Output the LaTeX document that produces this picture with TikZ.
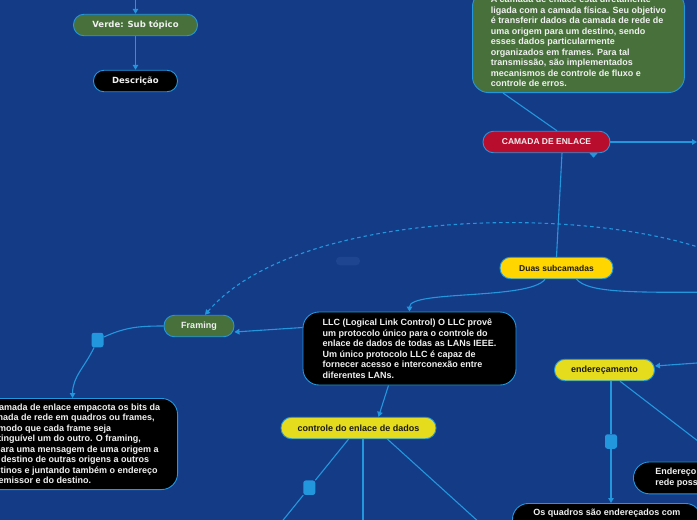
\documentclass[tikz,border=0pt]{standalone}
\usepackage{fontspec}
\setmainfont{Liberation Sans}
\newfontfamily\legendfont{DejaVu Sans}
\definecolor{mapnavy}{HTML}{143B86}
\definecolor{linkblue}{HTML}{2397DE}
\definecolor{leafgreen}{HTML}{47703A}
\definecolor{rootred}{HTML}{B80D2D}
\definecolor{sungold}{HTML}{FFD600}
\definecolor{lemon}{HTML}{E5DC1E}
\definecolor{ghostblue}{HTML}{1D4590}
\definecolor{paper}{HTML}{F0F0F0}
\definecolor{ink}{HTML}{1A1A1A}
\usetikzlibrary{arrows.meta,positioning,calc}

\begin{document}
\begin{tikzpicture}[x=1pt,y=1pt,
  link/.style={linkblue,line width=1.1pt},
  tip/.style={-{Triangle[length=5pt,width=5.5pt]}},
  pill/.style={draw=linkblue,line width=0.9pt,rounded corners=10.5pt,minimum height=21.5pt,
    inner sep=0pt,font=\bfseries\fontsize{9}{10.5}\selectfont},
  card/.style={draw=linkblue,line width=0.9pt,rounded corners=16pt,inner xsep=0pt,
    inner ysep=5.5pt,align=left,text=paper,font=\bfseries\fontsize{9}{10.5}\selectfont},
  knot/.style={fill=linkblue,rounded corners=2.5pt,minimum width=12pt,minimum height=14.5pt,inner sep=0pt}]
  \useasboundingbox (0,0) rectangle (697,-520);
  \fill[mapnavy] (0,0) rectangle (697,-520);

  % Legend
  \node[pill,fill=leafgreen,text=paper,minimum width=124pt,
    font=\legendfont\bfseries\fontsize{8.5}{10}\selectfont] (verde) at (135.5,-25) {Verde: Sub tópico};
  \node[pill,fill=black,text=paper,minimum width=84pt,
    font=\legendfont\bfseries\fontsize{8.5}{10}\selectfont] (descricao) at (135.5,-81) {Descrição};
  \coordinate (legendin) at (135.5,6);
  \draw[link,tip] (legendin) -- (verde);
  \draw[link,tip] (verde) -- (descricao);

  % Camada de enlace
  \node[card,fill=leafgreen,minimum width=212pt,anchor=south west] (resumo) at (472,-93)
    {A camada de enlace está diretamente\\ligada com a camada física. Seu objetivo\\é transferir dados da camada de rede de\\uma origem para um destino, sendo\\esses dados particularmente\\organizados em frames. Para tal\\transmissão, são implementados\\mecanismos de controle de fluxo e\\controle de erros.};
  \node[pill,fill=rootred,text=paper,minimum width=127pt,
    font=\bfseries\fontsize{8.5}{10}\selectfont] (camada) at (546.5,-142) {CAMADA DE ENLACE};
  \fill[linkblue] ([xshift=43pt]camada.south) -- ([xshift=51pt]camada.south)
    -- ([xshift=47pt,yshift=-4.5pt]camada.south) -- cycle;
  \draw[link] ([xshift=31pt]resumo.south west) -- ([xshift=10.5pt]camada.north);
  \coordinate (eastA) at (697,-142);
  \draw[link,tip] (camada) -- (eastA);

  % Duas subcamadas
  \node[pill,fill=sungold,text=ink,minimum width=113pt,
    font=\bfseries\fontsize{8.5}{10}\selectfont] (duas) at (556.5,-268) {Duas subcamadas};
  \draw[link] (duas.north) -- ([xshift=15.5pt]camada.south);
  \coordinate (eastB) at (720,-292);
  \draw[link] ([xshift=20pt]duas.south) .. controls (588,-292) and (625,-293) .. (eastB);
  \node[fill=ghostblue,rounded corners=4pt,minimum width=24pt,minimum height=8.5pt,inner sep=0pt] (ghost) at (348,-261) {};

  % LLC
  \node[card,fill=black,minimum width=213pt,minimum height=73pt] (llc) at (409.5,-348.5)
    {LLC (Logical Link Control) O LLC provê\\um protocolo único para o controle do\\enlace de dados de todas as LANs IEEE.\\Um único protocolo LLC é capaz de\\fornecer acesso e interconexão entre\\diferentes LANs.};
  \draw[link,tip] ([xshift=-11.5pt]duas.south) .. controls (530,-300) and (409.5,-290) .. (llc.north);

  % Framing
  \node[pill,fill=leafgreen,text=paper,minimum width=70pt] (framing) at (199,-326) {Framing};
  \node[card,fill=black,minimum width=210pt,anchor=north east] (framingdesc) at (178,-398)
    {A camada de enlace empacota os bits da\\camada de rede em quadros ou frames,\\de modo que cada frame seja\\distinguível um do outro. O framing,\\separa uma mensagem de uma origem a\\um destino de outras origens a outros\\destinos e juntando também o endereço\\do emissor e do destino.};
  \node[knot] (knotA) at (97.5,-340) {};
  \coordinate (eastC) at (720,-255);
  \draw[link,dash pattern=on 3.5pt off 3pt,tip] (eastC) .. controls (600,-205) and (300,-205) .. ([xshift=6pt]framing.north);
  \draw[link,tip] ([yshift=21pt]llc.west) -- ([yshift=-6pt]framing.east);
  \draw[link] (framing.west) to[out=180,in=25] (knotA);
  \draw[link,tip] (knotA) to[out=-115,in=90] (framingdesc.north);

  % Controle do enlace de dados
  \node[pill,fill=lemon,text=ink,minimum width=155pt] (controle) at (358.5,-428) {controle do enlace de dados};
  \draw[link,tip] ([xshift=-21pt]llc.south) -- ([xshift=20pt]controle.north);
  \node[knot] (knotB) at (309.3,-487.7) {};
  \coordinate (southA) at (267,-540);
  \coordinate (southB) at (363,-540);
  \coordinate (southC) at (498.7,-540);
  \draw[link] ([xshift=-10pt]controle.south) -- (knotB) -- (southA);
  \draw[link] ([xshift=4.5pt]controle.south) -- (southB);
  \draw[link] ([xshift=29pt]controle.south) -- (southC);

  % Enderecamento
  \node[pill,fill=lemon,text=ink,minimum width=100pt] (enderecamento) at (604.5,-370) {endereçamento};
  \node[card,fill=black,anchor=north west,inner xsep=22pt,inner ysep=6.5pt] (enderecofisico) at (633,-461.5)
    {Endereço MAC: cada placa de\\rede possui um endereço único.};
  \node[card,fill=black,anchor=north west,inner xsep=21pt,text depth=30pt] (quadros) at (512,-503)
    {Os quadros são endereçados com};
  \coordinate (eastD) at (697,-363);
  \draw[link,tip] (eastD) -- ([yshift=4pt]enderecamento.east);
  \node[knot] (knotC) at (611,-441.5) {};
  \draw[link] ([xshift=6.5pt]enderecamento.south) -- (knotC);
  \draw[link,tip] (knotC) -- (knotC |- quadros.north);
  \coordinate (eastE) at (720,-458);
  \draw[link] ([xshift=15.5pt]enderecamento.south) -- (eastE);
\end{tikzpicture}
\end{document}
